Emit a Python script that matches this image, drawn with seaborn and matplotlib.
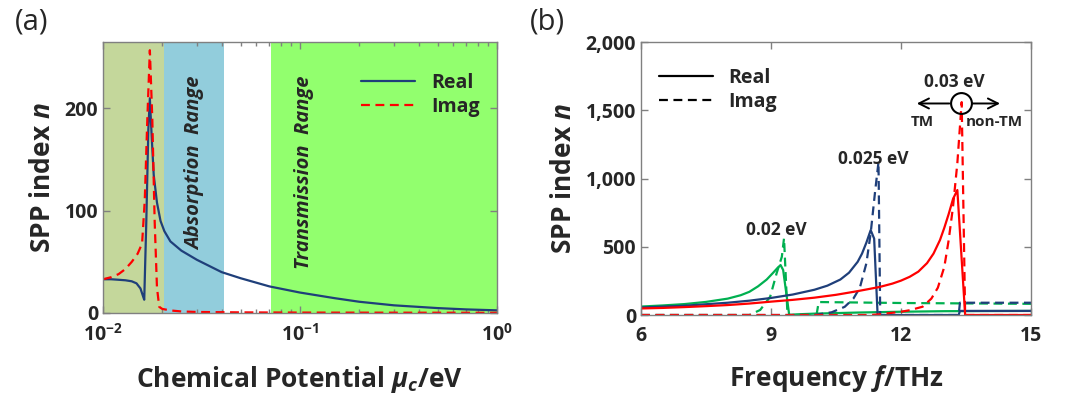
import numpy as np
import pandas as pd
import matplotlib
matplotlib.use('Agg')
import matplotlib.pyplot as plt
import seaborn as sns
from matplotlib.lines import Line2D
from matplotlib.ticker import FixedLocator, FixedFormatter, StrMethodFormatter

# ---------------- data: panel (a) ----------------
mu_real = [0.010, 0.011, 0.012, 0.013, 0.014, 0.0148, 0.0155, 0.0160, 0.0162, 0.0166,
           0.0170, 0.0173, 0.0177, 0.0181, 0.0188, 0.0196, 0.0205, 0.022, 0.025, 0.030,
           0.040, 0.050, 0.070, 0.100, 0.150, 0.200, 0.300, 0.500, 0.700, 1.000]
n_real_a = [33, 33, 32.5, 32, 31, 29, 24, 16, 13, 90,
            180, 210, 170, 135, 108, 90, 80, 70, 61, 52,
            40, 34, 26, 20, 14.5, 11, 7.5, 4.8, 3.5, 2.6]

mu_imag = [0.010, 0.011, 0.012, 0.013, 0.014, 0.0150, 0.0158, 0.0163, 0.0168, 0.0173,
           0.0178, 0.0183, 0.0188, 0.0193, 0.020, 0.022, 0.025, 0.030, 0.050, 0.100,
           0.300, 1.000]
n_imag_a = [33, 35, 38, 43, 50, 58, 68, 110, 190, 257,
            190, 90, 25, 6, 4, 2.5, 1.5, 1, 0.6, 0.4,
            0.3, 0.2]

region_edges = [0.01, 0.0203, 0.041, 0.071, 1.0]
region_colors = ['#C4D79B', '#92CDDC', '#FFFFFF', '#92FF6E']

# ---------------- data: panel (b) ----------------
f_g_real = [6, 6.5, 7, 7.5, 8, 8.3, 8.5, 8.7, 8.9, 9.05, 9.15, 9.22, 9.28, 9.42,
            9.6, 10, 11, 12, 13, 15]
g_real = [62, 70, 80, 96, 120, 145, 170, 210, 260, 310, 345, 366, 330, 0,
          5, 10, 18, 24, 28, 30]
f_g_imag = [6, 8.5, 8.75, 8.98, 9.13, 9.25, 9.3, 9.38, 10.05, 10.1, 12, 15]
g_imag = [0, 0, 37, 134, 307, 427, 563, 0, 0, 95, 88, 82]

f_b_real = [6, 7, 8, 8.5, 9, 9.5, 10, 10.3, 10.6, 10.8, 11.0, 11.1, 11.2, 11.3, 11.38,
            11.46, 13.33, 13.36, 15]
b_real = [55, 68, 90, 105, 125, 150, 185, 215, 260, 310, 390, 450, 530, 622, 560,
          0, 0, 30, 30]
f_b_imag = [6, 10.0, 10.4, 10.7, 10.9, 11.05, 11.2, 11.3, 11.4, 11.48, 11.52,
            13.33, 13.36, 15]
b_imag = [0, 0, 20, 60, 120, 200, 378, 600, 900, 1120, 0,
          0, 90, 90]

f_r_real = [6, 6.5, 7, 7.5, 8, 8.5, 9, 9.5, 10, 10.5, 11, 11.5, 11.8, 12, 12.2, 12.4,
            12.6, 12.75, 12.9, 13.0, 13.1, 13.2, 13.3, 13.48, 15]
r_real = [48, 52, 58, 65, 73, 84, 98, 111, 127, 148, 175, 205, 230, 252, 280, 318,
          380, 450, 550, 640, 740, 850, 916, 0, 0]
f_r_imag = [6, 11.3, 11.5, 12, 12.2, 12.5, 12.7, 12.85, 13.0, 13.1, 13.2, 13.3, 13.4,
            13.48, 15]
r_imag = [0, 0, 5, 24, 35, 61, 120, 200, 354, 549, 793, 1113, 1560, 0, 0]

c_green, c_blue, c_red = '#00B050', '#1F3F7A', '#FF0000'

# ---------------- style ----------------
sns.set_style('ticks')
plt.rcParams['font.family'] = ['Open Sans', 'DejaVu Sans']
plt.rcParams['font.weight'] = 'bold'
plt.rcParams['mathtext.fontset'] = 'custom'
plt.rcParams['mathtext.rm'] = 'Open Sans:bold'
plt.rcParams['mathtext.bf'] = 'Open Sans:bold'
plt.rcParams['mathtext.it'] = 'Open Sans:italic:bold'
plt.rcParams['axes.edgecolor'] = '#808080'
plt.rcParams['xtick.color'] = '#808080'
plt.rcParams['ytick.color'] = '#808080'
plt.rcParams['xtick.labelcolor'] = '#262626'
plt.rcParams['ytick.labelcolor'] = '#262626'

fig = plt.figure(figsize=(10.77, 3.95), dpi=100)
ax1 = fig.add_axes([0.0956, 0.2076, 0.3658, 0.686])
ax2 = fig.add_axes([0.5952, 0.2025, 0.3621, 0.691])

dash = (0, (4, 2.5))

# ---------------- panel (a) ----------------
for i in range(len(region_colors)):
    ax1.axvspan(region_edges[i], region_edges[i + 1], color=region_colors[i], lw=0, zorder=0)

sns.lineplot(x=mu_real, y=n_real_a, ax=ax1, color=c_blue, lw=1.6, sort=False,
             estimator=None, label='Real')
sns.lineplot(x=mu_imag, y=n_imag_a, ax=ax1, color=c_red, lw=1.6, sort=False,
             estimator=None, label='Imag')
ax1.lines[-1].set_linestyle(dash)
ax1.set_xscale('log')
ax1.set_xlim(0.01, 1)
ax1.set_ylim(0, 265)
ax1.set_yticks([0, 100, 200])
ax1.xaxis.set_major_locator(FixedLocator([0.01, 0.1, 1]))
ax1.xaxis.set_major_formatter(FixedFormatter([r'$\mathbf{10^{-2}}$', r'$\mathbf{10^{-1}}$',
                                              r'$\mathbf{10^{0}}$']))
ax1.text(0.0295, 146, 'Absorption  Range', rotation=90, ha='center', va='center',
         fontsize=14.5, fontstyle='italic', fontweight='bold')
ax1.text(0.105, 138, 'Transmission  Range', rotation=90, ha='center', va='center',
         fontsize=14.5, fontstyle='italic', fontweight='bold')
ax1.set_xlabel(r'Chemical Potential $\mu_c$/eV', fontsize=19, fontweight='bold', labelpad=13)
ax1.set_ylabel(r'SPP index $n$', fontsize=19, fontweight='bold', labelpad=6)
leg1 = ax1.legend(loc='upper right', frameon=False, fontsize=14, handlelength=2.8,
                  bbox_to_anchor=(1.0, 0.95), labelspacing=0.2)
for t in leg1.get_texts():
    t.set_fontweight('bold')

# ---------------- panel (b) ----------------
series_b = [
    (f_g_real, g_real, c_green, '-'), (f_g_imag, g_imag, c_green, '--'),
    (f_b_real, b_real, c_blue, '-'), (f_b_imag, b_imag, c_blue, '--'),
    (f_r_real, r_real, c_red, '-'), (f_r_imag, r_imag, c_red, '--'),
]
for fx, vy, col, ls in series_b:
    sns.lineplot(x=fx, y=vy, ax=ax2, color=col, lw=1.6, sort=False, estimator=None)
    if ls == '--':
        ax2.lines[-1].set_linestyle(dash)

ax2.set_xlim(6, 15)
ax2.set_ylim(0, 2000)
ax2.set_xticks([6, 9, 12, 15])
ax2.set_yticks([0, 500, 1000, 1500, 2000])
ax2.yaxis.set_major_formatter(StrMethodFormatter('{x:,.0f}'))
ax2.set_xlabel(r'Frequency $f$/THz', fontsize=19, fontweight='bold', labelpad=12)
ax2.set_ylabel(r'SPP index $n$', fontsize=19, fontweight='bold', labelpad=6)

ax2.text(9.12, 560, '0.02 eV', ha='center', va='bottom', fontsize=12.5, fontweight='bold')
ax2.text(11.35, 1080, '0.025 eV', ha='center', va='bottom', fontsize=12.5, fontweight='bold')
ax2.text(13.22, 1640, '0.03 eV', ha='center', va='bottom', fontsize=12.5, fontweight='bold')
ax2.plot([13.38], [1550], marker='o', ms=15, mfc='none', mec='k', mew=1.5)
ax2.annotate('', xy=(12.3, 1550), xytext=(13.18, 1550),
             arrowprops=dict(arrowstyle='->', color='k', lw=1.4, mutation_scale=18))
ax2.annotate('', xy=(14.35, 1550), xytext=(13.58, 1550),
             arrowprops=dict(arrowstyle='->', color='k', lw=1.4, mutation_scale=18))
ax2.text(12.5, 1415, 'TM', ha='center', va='center', fontsize=11, fontweight='bold')
ax2.text(14.15, 1415, 'non-TM', ha='center', va='center', fontsize=11, fontweight='bold')

handles = [Line2D([], [], color='k', lw=1.6),
           Line2D([], [], color='k', lw=1.6, linestyle=dash)]
leg2 = ax2.legend(handles, ['Real', 'Imag'], loc='upper left', frameon=False, fontsize=14,
                  handlelength=2.8, bbox_to_anchor=(0.0, 0.97), labelspacing=0.2)
for t in leg2.get_texts():
    t.set_fontweight('bold')

for ax in (ax1, ax2):
    ax.tick_params(direction='in', which='both', top=True, right=True, labelsize=14, length=5,
                   width=1)
    ax.tick_params(which='minor', length=3)
    ax.tick_params(axis='x', pad=8)
    for lab in ax.get_xticklabels() + ax.get_yticklabels():
        lab.set_fontweight('bold')
    for sp in ax.spines.values():
        sp.set_linewidth(1.0)
    ax.set_facecolor('white')

fig.text(0.029, 0.945, '(a)', fontsize=21, fontweight='normal', ha='center', va='center')
fig.text(0.508, 0.945, '(b)', fontsize=21, fontweight='normal', ha='center', va='center')

fig.savefig('out.png', dpi=100)
